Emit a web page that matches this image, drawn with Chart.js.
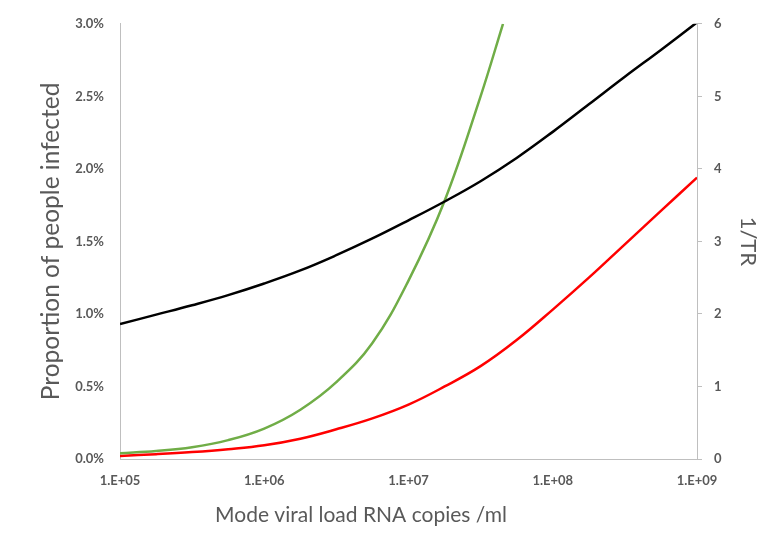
<!DOCTYPE html>
<html>
<head>
<meta charset="utf-8">
<script src="https://cdn.jsdelivr.net/npm/chart.js@4"></script>
<style>
  html, body { margin: 0; padding: 0; background: #ffffff; }
  #wrap { width: 772px; height: 548px; position: relative; }
</style>
</head>
<body>
<div id="wrap"><canvas id="c" width="772" height="548"></canvas></div>
<script>
// Mode viral load (RNA copies/ml) sample points
const loadX = [1e5, 1.78e5, 3.16e5, 5.62e5, 1e6, 1.78e6, 3.16e6, 5.62e6, 1e7, 1.78e7, 3.16e7, 5.62e7, 1e8, 1.78e8, 3.16e8, 5.62e8, 1e9];
// 1/TR (right axis)
const invTR = [1.86, 1.99, 2.12, 2.26, 2.42, 2.60, 2.81, 3.04, 3.29, 3.55, 3.83, 4.15, 4.51, 4.89, 5.27, 5.64, 6.02];
// Proportion infected, red curve (%)
const redPct = [0.021, 0.033, 0.048, 0.068, 0.095, 0.14, 0.205, 0.28, 0.375, 0.50, 0.64, 0.82, 1.03, 1.25, 1.48, 1.71, 1.94];
// Proportion infected, green curve (%) - leaves the plot at the top
const greenX = [1e5, 1.78e5, 3.16e5, 5.62e5, 1e6, 1.78e6, 3.16e6, 5.62e6, 1e7, 1.78e7, 3.16e7, 4.52e7];
const greenPct = [0.040, 0.055, 0.081, 0.13, 0.21, 0.34, 0.53, 0.80, 1.23, 1.78, 2.50, 3.00];

const xTickValues = [1e5, 1e6, 1e7, 1e8, 1e9];
const xTickLabels = ['1.E+05', '1.E+06', '1.E+07', '1.E+08', '1.E+09'];
const xTitleText = 'Mode viral load RNA copies /ml';

const pts = (xs, ys) => xs.map((x, i) => ({ x: x, y: ys[i] }));

const tickFont = { family: 'Lato', size: 13, weight: 'bold' };
const textGray = '#595959';
const axisGray = '#bfbfbf';

// draws the x-axis title slightly left of the plot centre, as in the reference
const xTitlePlugin = {
  id: 'xTitle',
  afterDraw(chart) {
    const ctx = chart.ctx;
    ctx.save();
    ctx.font = 'normal 21px Lato';
    ctx.fillStyle = textGray;
    ctx.textAlign = 'center';
    ctx.textBaseline = 'middle';
    ctx.fillText(xTitleText, 361, 515);
    ctx.restore();
  }
};

new Chart(document.getElementById('c'), {
  type: 'line',
  data: {
    datasets: [
      { label: '1/TR', data: pts(loadX, invTR), yAxisID: 'yR', borderColor: '#000000', borderWidth: 2.5 },
      { label: 'Green', data: pts(greenX, greenPct), yAxisID: 'yL', borderColor: '#70ad47', borderWidth: 2.5 },
      { label: 'Red', data: pts(loadX, redPct), yAxisID: 'yL', borderColor: '#ff0000', borderWidth: 2.5 }
    ]
  },
  plugins: [xTitlePlugin],
  options: {
    responsive: false,
    animation: false,
    elements: { point: { radius: 0 }, line: { tension: 0.4, fill: false } },
    layout: { padding: { top: 22, left: 0, right: 0, bottom: 0 } },
    plugins: { legend: { display: false }, tooltip: { enabled: false } },
    scales: {
      x: {
        type: 'logarithmic',
        min: 1e5, max: 1e9,
        afterBuildTicks: (s) => { s.ticks = xTickValues.map(v => ({ value: v })); },
        afterFit: (s) => { s.height = 89; },
        ticks: {
          autoSkip: false, maxRotation: 0, padding: 14, color: textGray, font: tickFont,
          callback: (v) => { const i = xTickValues.indexOf(v); return i >= 0 ? xTickLabels[i] : ''; }
        },
        grid: { display: false, drawTicks: false },
        border: { display: true, color: axisGray, width: 1 },
        title: { display: false }
      },
      yL: {
        type: 'linear', position: 'left',
        min: 0, max: 3,
        afterFit: (s) => { s.width = 120; },
        ticks: { stepSize: 0.5, padding: 16, color: textGray, font: tickFont, callback: (v) => v.toFixed(1) + '%' },
        grid: { display: false, drawTicks: false },
        border: { display: true, color: axisGray, width: 1 },
        title: { display: true, text: 'Proportion of people infected', color: textGray, font: { family: 'Lato', size: 24.5, weight: 'normal' }, padding: { top: 36, bottom: 0 } }
      },
      yR: {
        type: 'linear', position: 'right',
        min: 0, max: 6,
        afterFit: (s) => { s.width = 75; },
        ticks: { stepSize: 1, padding: 12, color: textGray, font: tickFont },
        grid: { display: true, drawOnChartArea: false, drawTicks: true, tickLength: 5, color: axisGray },
        border: { display: true, color: axisGray, width: 1 },
        title: { display: true, text: '1/TR', color: textGray, font: { family: 'Lato', size: 22, weight: 'normal' }, padding: { top: 11, bottom: 0 } }
      }
    }
  }
});
</script>
</body>
</html>
